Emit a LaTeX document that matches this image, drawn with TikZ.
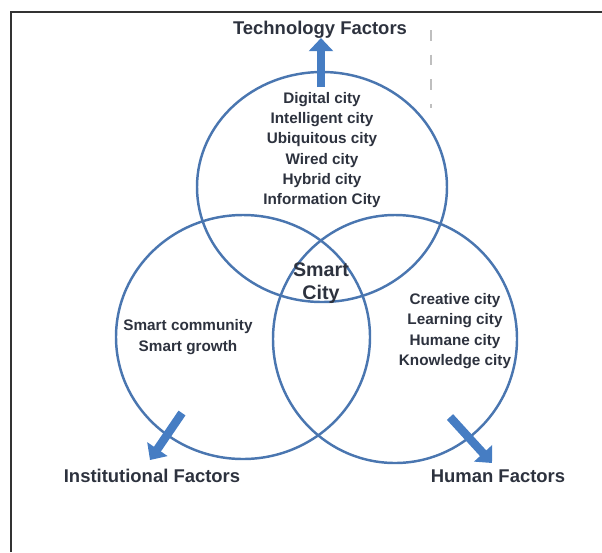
\documentclass[tikz,border=0pt]{standalone}
\usepackage{fontspec}
\setmainfont{Liberation Sans}
\usetikzlibrary{arrows.meta}
\definecolor{ringblue}{RGB}{74,118,176}
\definecolor{arrowblue}{RGB}{70,125,195}
\definecolor{txtgray}{RGB}{45,50,62}
\begin{document}
\begin{tikzpicture}[x=0.02cm,y=-0.02cm,
	ring/.style={ringblue,line width=1.4pt},
	fat/.style={arrowblue,line width=4.8pt,-{Triangle[width=13.6pt,length=7.5pt]}},
	factor/.style={font=\bfseries\fontsize{10.5}{12}\selectfont,text=txtgray,inner sep=0pt},
	city/.style={font=\bfseries\fontsize{8.7}{11.6}\selectfont,text=txtgray,align=center,inner sep=0pt}]
	\useasboundingbox (0,0) rectangle (602,552);
	\draw[line width=1.2pt,black!80] (11,552) -- (11,12) -- (602,12);
	\draw[gray!50,line width=0.6pt,dash pattern=on 6pt off 8pt] (431,30) -- (431,108);
	% the three circles
	\draw[ring] (322,187) ellipse [x radius=125,y radius=115];
	\draw[ring] (243,337) ellipse [x radius=127,y radius=122];
	\draw[ring] (395,339) ellipse [x radius=122,y radius=124];
	% texts
	\node[city] (techcities) at (322,150) {Digital city\\Intelligent city\\Ubiquitous city\\Wired city\\Hybrid city\\Information City};
	\node[city] (instcities) at (188,337) {Smart community\\Smart growth};
	\node[city] (humancities) at (455,331) {Creative city\\Learning city\\Humane city\\Knowledge city};
	\node[city,font=\bfseries\fontsize{11.2}{13}\selectfont] (smart) at (321,283) {Smart\\City};
	\node[factor] (tech) at (320,30) {Technology Factors};
	\node[factor] (inst) at (152,476) {Institutional Factors};
	\node[factor] (human) at (498,476) {Human Factors};
	% arrows
	\coordinate (techtail) at (321,87);
	\coordinate (techtip) at (321,38);
	\coordinate (insttail) at (182,413);
	\coordinate (insttip) at (150,460);
	\coordinate (humantail) at (450,417);
	\coordinate (humantip) at (492,463);
	\draw[fat] (techtail) -- (techtip);
	\draw[fat] (insttail) -- (insttip);
	\draw[fat] (humantail) -- (humantip);
\end{tikzpicture}
\end{document}
